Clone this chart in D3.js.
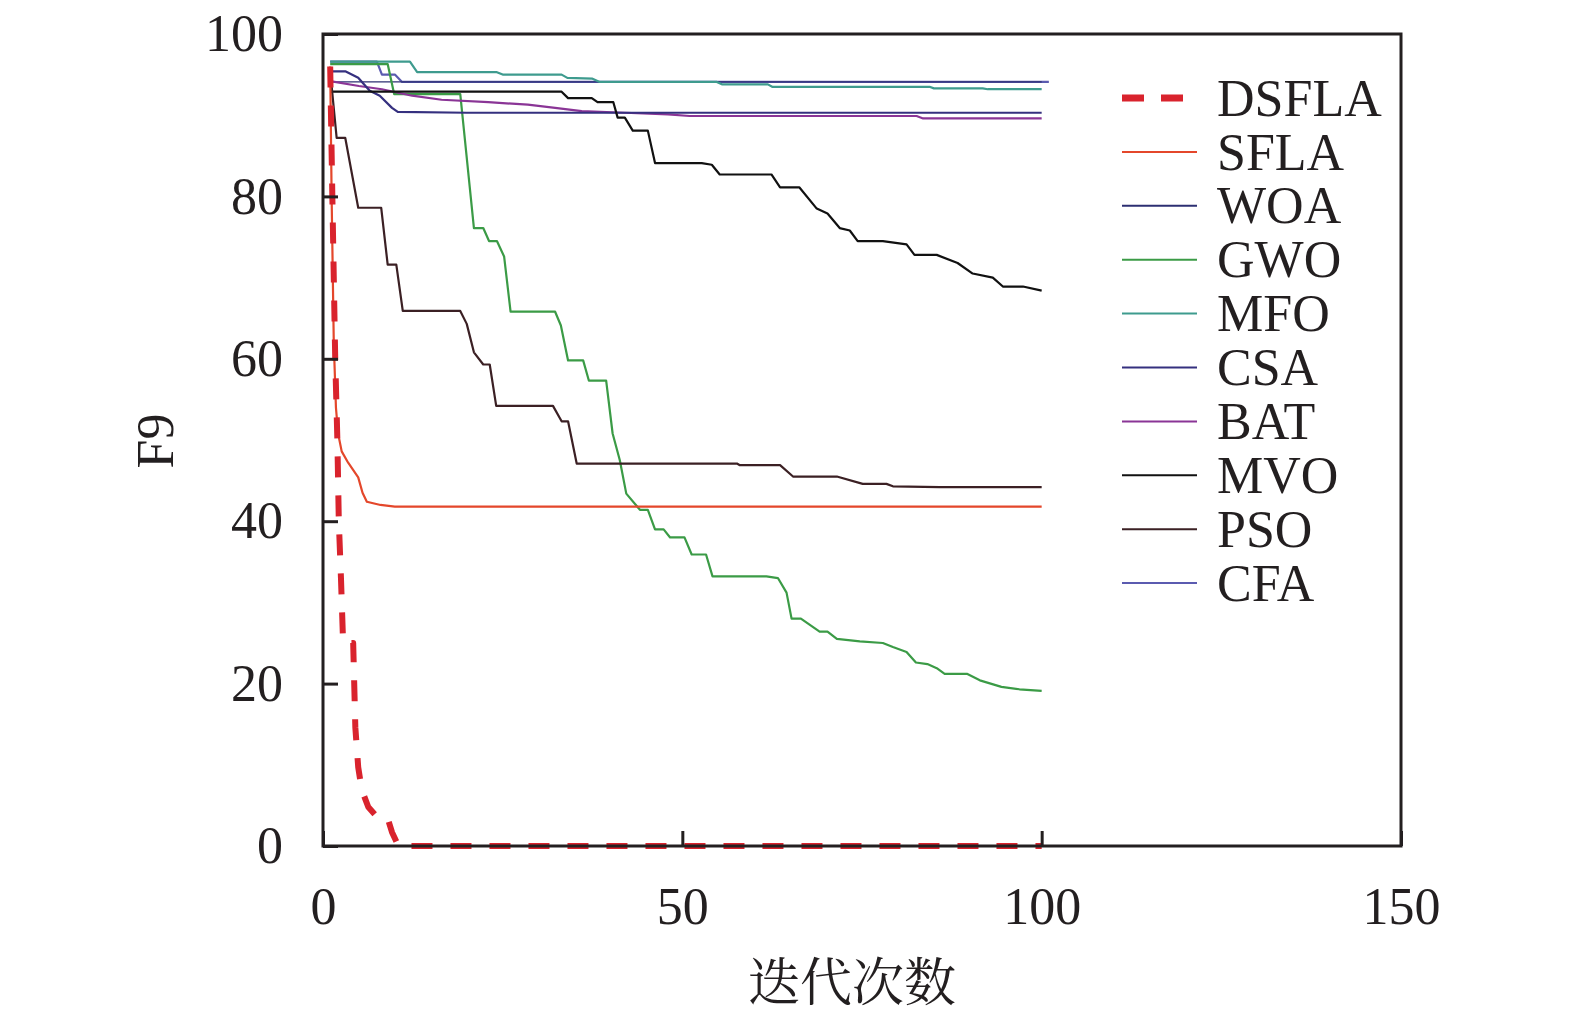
<!DOCTYPE html>
<html>
<head>
<meta charset="utf-8">
<script src="https://cdn.jsdelivr.net/npm/d3@7"></script>
<style>
  body { margin: 0; background: #fff; }
  svg { display: block; }
  .tick text, .legend-label, .y-title { font-family: "Liberation Serif", "Times New Roman", serif; }
  .x-title { font-family: "Noto Serif CJK SC", "Noto Sans CJK SC", serif; }
</style>
</head>
<body>
<div id="chart"></div>
<script>
// iteration / fitness pairs
const dsfla = [[1, 96], [1.3, 80], [1.7, 60], [2, 50], [2.2, 40], [2.5, 33], [2.8, 25], [4.2, 25], [4.5, 14.6], [4.9, 9.7], [5.4, 6.9], [6.3, 4.8], [7.5, 3.6], [9, 3.4], [9.6, 1.7], [10.5, 0], [100, 0]]
const sfla = [[1, 96], [1.2, 80], [1.5, 62], [1.8, 54], [2.1, 50.8], [2.6, 48.6], [3.5, 47.2], [4.9, 45.4], [5.5, 43.5], [6.1, 42.4], [8, 42], [10, 41.8], [100, 41.8]]
const woa = [[1, 94.1], [100, 94.1]]
const gwo = [[1, 96.3], [9, 96.3], [9.9, 92.6], [19.1, 92.6], [21, 76.1], [22.3, 76.1], [23.1, 74.5], [24.2, 74.5], [25.2, 72.6], [26.1, 65.8], [32.3, 65.8], [33.1, 64.1], [34.1, 59.8], [36.2, 59.8], [37, 57.3], [39.4, 57.3], [40.3, 50.8], [41.3, 47.5], [42.2, 43.4], [44.1, 41.4], [45.2, 41.4], [46.2, 39], [47.4, 39], [48.3, 38], [50.3, 38], [51.3, 35.9], [53.3, 35.9], [54.2, 33.2], [61.7, 33.2], [63.3, 33], [64.5, 31.2], [65.2, 28], [66.5, 28], [69.1, 26.4], [70.2, 26.4], [71.5, 25.5], [74.7, 25.2], [77.9, 25], [79.3, 24.5], [81.2, 23.9], [82.5, 22.6], [84.1, 22.4], [85.4, 21.9], [86.5, 21.2], [89.6, 21.2], [91.4, 20.4], [94.4, 19.6], [96.9, 19.3], [100, 19.1]]
const mfo = [[1, 96.6], [12.1, 96.6], [13.1, 95.3], [24.2, 95.3], [25, 95], [33.2, 95], [34, 94.6], [37.5, 94.5], [38.5, 94.1], [54.8, 94.1], [55.5, 93.8], [61.9, 93.8], [62.5, 93.5], [84.4, 93.5], [85, 93.3], [91.8, 93.3], [92.5, 93.2], [100, 93.2]]
const csa = [[1, 95.4], [3.1, 95.4], [4.9, 94.6], [6.5, 93], [7.9, 92.4], [9.6, 90.9], [10.4, 90.4], [20, 90.3], [100, 90.3]]
const bat = [[1, 94.2], [5, 93.6], [8.2, 93.2], [12.4, 92.4], [16.5, 91.9], [23, 91.6], [28.5, 91.3], [32.3, 90.9], [36, 90.5], [42, 90.3], [48, 90.1], [51, 89.9], [82.6, 89.9], [83.5, 89.6], [100, 89.6]]
const mvo = [[1, 92.9], [33.2, 92.9], [34.1, 92.1], [37.4, 92.1], [38.2, 91.6], [40.4, 91.6], [41, 89.7], [42, 89.7], [43.1, 88.1], [45.2, 88.1], [46.2, 84.1], [52.7, 84.1], [54.1, 83.9], [55.2, 82.7], [62.4, 82.7], [63.6, 81.1], [66.3, 81.1], [68.7, 78.5], [70.2, 77.9], [71.9, 76.1], [73.3, 75.8], [74.4, 74.5], [77.9, 74.5], [81.2, 74.1], [82.3, 72.8], [85.4, 72.8], [88.3, 71.8], [90.4, 70.5], [93.2, 70], [94.6, 68.9], [97.4, 68.9], [100, 68.4]]
const pso = [[1, 95.4], [1.9, 87.2], [3.1, 87.2], [4.9, 78.6], [8.1, 78.6], [9, 71.6], [10.2, 71.6], [11.1, 65.9], [19.1, 65.9], [20, 64.3], [21, 60.8], [22.3, 59.3], [23.2, 59.3], [24.1, 54.2], [32, 54.2], [33.2, 52.3], [34.1, 52.3], [35.3, 47.1], [57.6, 47.1], [58, 46.9], [63.6, 46.9], [65.4, 45.5], [71.5, 45.5], [75.1, 44.6], [78.4, 44.6], [79.3, 44.3], [85.8, 44.2], [100, 44.2]]
const cfa = [[1, 96.6], [7.5, 96.6], [8.2, 95], [10, 95], [11, 94.1], [101, 94.1]]

const seriesNames = ['DSFLA', 'SFLA', 'WOA', 'GWO', 'MFO', 'CSA', 'BAT', 'MVO', 'PSO', 'CFA']
const seriesData = [dsfla, sfla, woa, gwo, mfo, csa, bat, mvo, pso, cfa]
const seriesColors = ['#d9232d', '#e4472b', '#2c2f72', '#3b9b46', '#3e9b8e', '#35307f', '#8a3596', '#111111', '#3b2024', '#5b5bb0']
// drawing order, back to front
const drawOrder = ['CFA', 'WOA', 'MFO', 'GWO', 'BAT', 'CSA', 'MVO', 'PSO', 'SFLA', 'DSFLA']

const xTicks = [0, 50, 100, 150]
const yTicks = [0, 20, 40, 60, 80, 100]
const xTitle = '迭代次数'
const yTitle = 'F9'

const width = 1575
const height = 1019
const plot = { left: 323, right: 1401, top: 34, bottom: 846 }
const fontSize = 52

const svg = d3.select('#chart')
  .append('svg')
  .attr('width', width)
  .attr('height', height)

const x = d3.scaleLinear().domain([0, 150]).range([plot.left, plot.right])
const y = d3.scaleLinear().domain([0, 100]).range([plot.bottom, plot.top])

const series = seriesNames.map((name, i) => ({
  name,
  points: seriesData[i],
  color: seriesColors[i],
  dashed: name === 'DSFLA'
}))

// ── LINES ───────────────────────────────────────────────────
const line = d3.line()
  .x(d => x(d[0]))
  .y(d => y(d[1]))

const lineWidth = name => name === 'DSFLA' ? 6 : (name === 'WOA' ? 1.3 : 2.2)

svg.append('g')
  .attr('class', 'lines')
  .selectAll('path')
  .data(drawOrder.map(n => series.find(s => s.name === n)))
  .join('path')
  .attr('d', d => line(d.points))
  .attr('fill', 'none')
  .attr('stroke', d => d.color)
  .attr('stroke-width', d => lineWidth(d.name))
  .attr('stroke-dasharray', d => d.dashed ? '21,18' : null)
  .attr('stroke-linejoin', 'round')

// ── AXES ────────────────────────────────────────────────────
const xAxis = svg.append('g')
  .attr('transform', `translate(0,${plot.bottom})`)
  .call(d3.axisBottom(x).tickValues(xTicks).tickFormat(d3.format('d')).tickSize(-15).tickPadding(41))

const yAxis = svg.append('g')
  .attr('transform', `translate(${plot.left},0)`)
  .call(d3.axisLeft(y).tickValues(yTicks).tickFormat(d3.format('d')).tickSize(-15).tickPadding(40))

;[xAxis, yAxis].forEach(a => {
  a.select('.domain').remove()
  a.selectAll('.tick line').attr('stroke', '#231f20').attr('stroke-width', 3)
  a.selectAll('.tick text').attr('font-size', fontSize).attr('fill', '#231f20')
})

// frame
svg.append('rect')
  .attr('x', plot.left)
  .attr('y', plot.top)
  .attr('width', plot.right - plot.left)
  .attr('height', plot.bottom - plot.top)
  .attr('fill', 'none')
  .attr('stroke', '#231f20')
  .attr('stroke-width', 3)

svg.append('text')
  .attr('class', 'x-title')
  .attr('x', 852)
  .attr('y', 1001)
  .attr('text-anchor', 'middle')
  .attr('font-size', fontSize)
  .attr('fill', '#231f20')
  .text(xTitle)

svg.append('text')
  .attr('class', 'y-title')
  .attr('transform', 'translate(173,441) rotate(-90)')
  .attr('text-anchor', 'middle')
  .attr('font-size', fontSize)
  .attr('fill', '#231f20')
  .text(yTitle)

// ── LEGEND ──────────────────────────────────────────────────
const legendTop = 98
const legendStep = 53.9

const legendItems = svg.append('g')
  .attr('class', 'legend')
  .selectAll('g')
  .data(series)
  .join('g')
  .attr('transform', (d, i) => `translate(1122,${legendTop + i * legendStep})`)

legendItems.append('line')
  .attr('x1', 0)
  .attr('x2', 75)
  .attr('stroke', d => d.color)
  .attr('stroke-width', d => d.dashed ? 7 : 2)
  .attr('stroke-dasharray', d => d.dashed ? '22,17' : null)

legendItems.append('text')
  .attr('class', 'legend-label')
  .attr('x', 95)
  .attr('dy', '0.34em')
  .attr('font-size', fontSize)
  .attr('fill', '#231f20')
  .text(d => d.name)
</script>
</body>
</html>
